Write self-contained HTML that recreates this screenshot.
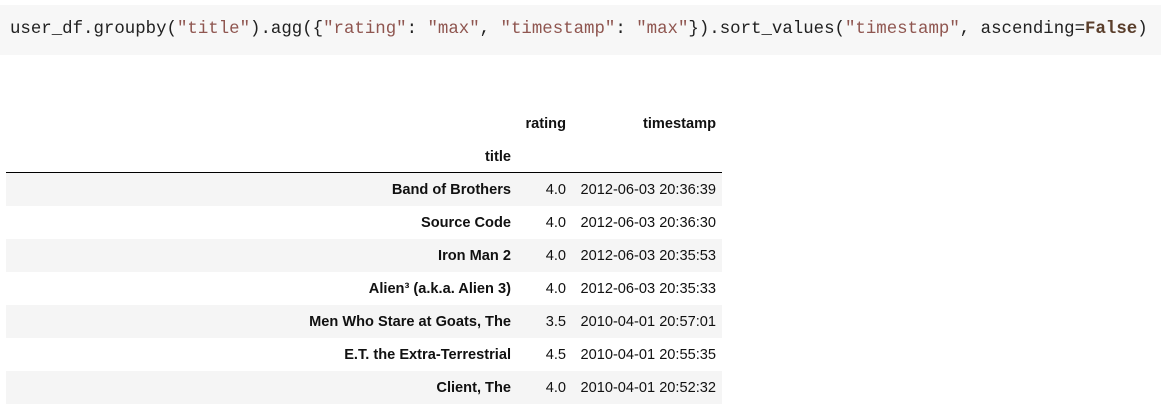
<!DOCTYPE html>
<html><head><style>
body{margin:0;width:1161px;height:413px;background:#fff;position:relative;overflow:hidden;font-family:"Liberation Sans",Arial,sans-serif;}
.code{position:absolute;left:0;top:5px;width:1161px;height:50px;background:#f7f7f7;}
.code pre{margin:0;position:absolute;left:10px;top:14px;font-family:"Liberation Mono",monospace;font-size:17.4px;color:#212121;line-height:22px;}
.s{color:#8f5650}.k{color:#5a3e2b;font-weight:bold}
.t{position:absolute;font-size:14.6px;color:#111;white-space:nowrap;}
.r{position:absolute;left:6px;width:716px;height:33px;}
.g{background:#f5f5f5}
</style></head><body>
<div class="code"><pre>user_df.groupby(<span class="s">"title"</span>).agg({<span class="s">"rating"</span>: <span class="s">"max"</span>, <span class="s">"timestamp"</span>: <span class="s">"max"</span>}).sort_values(<span class="s">"timestamp"</span>, ascending=<span class="k">False</span>)</pre></div>
<div style="position:absolute;left:6px;top:172px;width:716px;height:1px;background:#000"></div>
<div class="r g" style="top:173px"></div>
<div class="r g" style="top:239px"></div>
<div class="r g" style="top:305px"></div>
<div class="r g" style="top:371px"></div>
<div class="t" style="right:595px;top:116px;font-weight:bold">rating</div>
<div class="t" style="right:445px;top:116px;font-weight:bold">timestamp</div>
<div class="t" style="right:650px;top:149px;font-weight:bold">title</div>
<div id="rows"></div>
<script>
var d=[["Band of Brothers","4.0","2012-06-03 20:36:39"],["Source Code","4.0","2012-06-03 20:36:30"],["Iron Man 2","4.0","2012-06-03 20:35:53"],["Alien³ (a.k.a. Alien 3)","4.0","2012-06-03 20:35:33"],["Men Who Stare at Goats, The","3.5","2010-04-01 20:57:01"],["E.T. the Extra-Terrestrial","4.5","2010-04-01 20:55:35"],["Client, The","4.0","2010-04-01 20:52:32"]];
var h="";d.forEach(function(r,i){var y=182+i*33;
h+='<div class="t" style="right:650px;top:'+y+'px;font-weight:bold">'+r[0]+'</div>';
h+='<div class="t" style="right:595px;top:'+y+'px">'+r[1]+'</div>';
h+='<div class="t" style="right:445px;top:'+y+'px">'+r[2]+'</div>';});
document.getElementById("rows").innerHTML=h;
</script>
</body></html>
